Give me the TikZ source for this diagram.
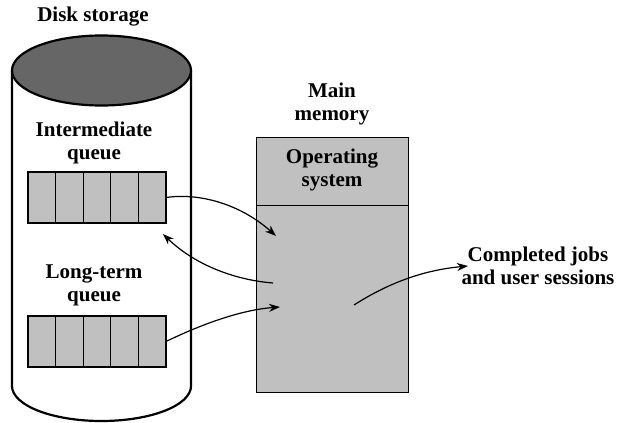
\documentclass[tikz,border=0pt]{standalone}
\usepackage{fontspec}
\setmainfont{Liberation Serif}
\usetikzlibrary{arrows.meta}
\definecolor{cellgray}{HTML}{C0C0C0}
\definecolor{topgray}{HTML}{666666}
\begin{document}
\begin{tikzpicture}[x=1pt,y=-1pt,
  lbl/.style={font=\fontsize{21}{23}\selectfont\bfseries, align=center, inner sep=0pt},
  cell/.style={draw=black, fill=cellgray, line width=1.2pt, minimum width=27.6pt, minimum height=51pt, inner sep=0pt, outer sep=0pt},
  flow/.style={-{Stealth[length=11pt,width=8pt]}, line width=1.2pt}]
\useasboundingbox (0,0) rectangle (619,423);
% cylinder
\draw[line width=2.2pt, fill=white] (12,70.5) -- (12,386) arc[start angle=180, end angle=0, x radius=89.5, y radius=35] -- (191,70.5);
\draw[line width=2.2pt, fill=topgray] (101.5,70.5) ellipse[x radius=89.5, y radius=35];
\node[lbl] (disk) at (93,17) {Disk storage};
\node[lbl] (iq) at (94,143) {Intermediate\\queue};
\node[lbl] (lq) at (94,285) {Long-term\\queue};
% queues
\foreach \i in {0,...,4} {
  \node[cell, anchor=north west] (a\i) at (28+27.6*\i,172) {};
  \node[cell, anchor=north west] (b\i) at (28+27.6*\i,316) {};
}
% main memory
\node[lbl] (mm) at (332,104) {Main\\memory};
\node[draw, fill=cellgray, line width=1.2pt, minimum width=152pt, minimum height=255pt, anchor=north west, inner sep=0pt] (mem) at (256,137) {};
\node[draw, fill=cellgray, line width=1.2pt, minimum width=152pt, minimum height=68pt, anchor=north west, inner sep=0pt] (os) at (256,137) {};
\node[lbl] (ost) at (332,170) {Operating\\system};
\node[lbl] (done) at (538,266) {Completed jobs\\and user sessions};
% connectors
\coordinate (p1) at (276,236);
\coordinate (p2s) at (273,283);
\coordinate (p2e) at (163,234);
\coordinate (p3) at (280,307);
\coordinate (p4s) at (354,305);
\coordinate (p4e) at (468,266);
\draw[flow] (a4.east) .. controls (205,192) and (245,208) .. (p1);
\draw[flow] (p2s) .. controls (235,280) and (195,265) .. (p2e);
\draw[flow] (b4.east) .. controls (200,325) and (240,310) .. (p3);
\draw[flow] (p4s) .. controls (390,282) and (425,270) .. (p4e);
\end{tikzpicture}
\end{document}
